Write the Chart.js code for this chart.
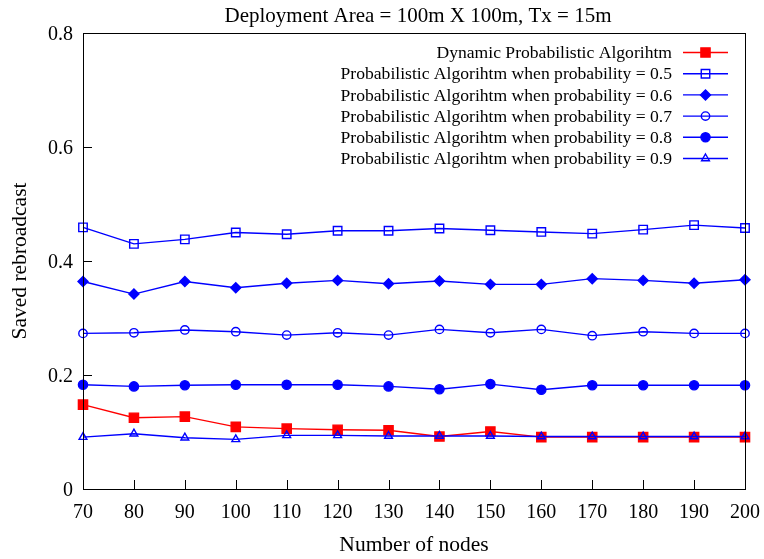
<!DOCTYPE html>
<html>
<head>
<meta charset="utf-8">
<script src="https://cdn.jsdelivr.net/npm/chart.js@4.4.1/dist/chart.umd.min.js"></script>
<style>
    body { margin: 0; background: #fff; }
    #wrap { width: 764px; height: 559px; position: relative; }
</style>
</head>
<body>
<div id="wrap"><canvas id="savedChart"></canvas></div>
<script>
// number of nodes
const nodes = [70, 80, 90, 100, 110, 120, 130, 140, 150, 160, 170, 180, 190, 200];

// saved rebroadcast per algorithm
const dynamicAlg = [0.148, 0.125, 0.127, 0.109, 0.106, 0.104, 0.103, 0.092, 0.101, 0.091, 0.091, 0.091, 0.091, 0.091];
const prob05 = [0.459, 0.430, 0.438, 0.450, 0.447, 0.453, 0.453, 0.457, 0.454, 0.451, 0.448, 0.455, 0.463, 0.458];
const prob06 = [0.364, 0.342, 0.364, 0.353, 0.361, 0.366, 0.360, 0.365, 0.359, 0.359, 0.369, 0.366, 0.361, 0.367];
const prob07 = [0.273, 0.274, 0.279, 0.276, 0.270, 0.274, 0.270, 0.280, 0.274, 0.280, 0.269, 0.276, 0.273, 0.273];
const prob08 = [0.183, 0.180, 0.182, 0.183, 0.183, 0.183, 0.180, 0.175, 0.184, 0.174, 0.182, 0.182, 0.182, 0.182];
const prob09 = [0.091, 0.097, 0.090, 0.087, 0.094, 0.094, 0.093, 0.093, 0.093, 0.092, 0.092, 0.092, 0.092, 0.092];

const yTicks = [0, 0.2, 0.4, 0.6, 0.8];

const serif = '"Liberation Serif", "Times New Roman", serif';
const toPoints = arr => arr.map((v, i) => ({ x: nodes[i], y: v }));

function series(label, data, color, style, filled, radius, order) {
    return {
        label: label,
        data: toPoints(data),
        borderColor: color,
        backgroundColor: color,
        borderWidth: 1.4,
        pointStyle: style,
        pointRadius: radius,
        pointHoverRadius: radius,
        pointBorderWidth: 1.4,
        pointBackgroundColor: filled ? color : 'rgba(0,0,0,0)',
        pointBorderColor: color,
        tension: 0,
        clip: false,
        order: order
    };
}

// frame, inward ticks, title and the gnuplot-style legend
const decorations = {
    id: 'decorations',
    afterDatasetsDraw(chart) {
        const ctx = chart.ctx;
        const area = chart.chartArea;
        const xs = chart.scales.x;
        const ys = chart.scales.y;
        ctx.save();
        ctx.strokeStyle = '#000';
        ctx.lineWidth = 1;
        ctx.strokeRect(Math.round(area.left) + 0.5, Math.round(area.top) + 0.5,
            Math.round(area.right - area.left), Math.round(area.bottom - area.top));
        ctx.beginPath();
        nodes.forEach(n => {
            const px = Math.round(xs.getPixelForValue(n)) + 0.5;
            ctx.moveTo(px, area.bottom);
            ctx.lineTo(px, area.bottom - 9);
        });
        yTicks.forEach(t => {
            const py = Math.round(ys.getPixelForValue(t)) + 0.5;
            ctx.moveTo(area.left, py);
            ctx.lineTo(area.left + 9, py);
        });
        ctx.stroke();

        ctx.fillStyle = '#000';
        ctx.font = '21px ' + serif;
        ctx.textAlign = 'center';
        ctx.textBaseline = 'alphabetic';
        ctx.fillText('Deployment Area = 100m X 100m, Tx = 15m', (area.left + area.right) / 2 + 4, 21.5);

        ctx.font = '17.6px ' + serif;
        ctx.textAlign = 'right';
        ctx.textBaseline = 'middle';
        chart.data.datasets.forEach((ds, i) => {
            const y = 52.5 + i * 21.2;
            ctx.fillStyle = '#000';
            ctx.fillText(ds.label, 672, y + 1);
            ctx.strokeStyle = ds.borderColor;
            ctx.lineWidth = 1.4;
            ctx.beginPath();
            ctx.moveTo(683, y);
            ctx.lineTo(728, y);
            ctx.stroke();
            ctx.fillStyle = ds.pointBackgroundColor;
            ctx.strokeStyle = ds.pointBorderColor;
            ctx.lineWidth = ds.pointBorderWidth;
            Chart.helpers.drawPoint(ctx, {
                pointStyle: ds.pointStyle,
                radius: ds.pointRadius,
                borderWidth: ds.pointBorderWidth,
                rotation: 0
            }, 705.5, y);
        });
        ctx.restore();
    }
};

const savedChart = new Chart(document.getElementById('savedChart'), {
    type: 'line',
    data: {
        datasets: [
            series('Dynamic Probabilistic Algorihtm', dynamicAlg, '#ff0000', 'rect', true, 6.5, 1),
            series('Probabilistic Algorihtm when probability = 0.5', prob05, '#0000ff', 'rect', false, 6, 0),
            series('Probabilistic Algorihtm when probability = 0.6', prob06, '#0000ff', 'rectRot', true, 5, 0),
            series('Probabilistic Algorihtm when probability = 0.7', prob07, '#0000ff', 'circle', false, 4.2, 0),
            series('Probabilistic Algorihtm when probability = 0.8', prob08, '#0000ff', 'circle', true, 4.6, 0),
            series('Probabilistic Algorihtm when probability = 0.9', prob09, '#0000ff', 'triangle', false, 4.5, 0)
        ]
    },
    options: {
        responsive: true,
        maintainAspectRatio: false,
        animation: false,
        events: [],
        layout: {
            padding: { top: 33, right: 19, bottom: 0, left: 0 }
        },
        plugins: {
            legend: { display: false },
            title: { display: false },
            tooltip: { enabled: false }
        },
        scales: {
            x: {
                type: 'linear',
                min: 70,
                max: 200,
                afterFit: scale => {
                    scale.height = 70;
                    scale.paddingLeft = 0;
                    scale.paddingRight = 0;
                },
                afterBuildTicks: scale => { scale.ticks = nodes.map(v => ({ value: v })); },
                grid: { display: false, drawTicks: false },
                border: { display: false },
                ticks: {
                    padding: 12,
                    color: '#000',
                    font: { family: serif, size: 20 },
                    maxRotation: 0,
                    autoSkip: false
                },
                title: {
                    display: true,
                    text: 'Number of nodes',
                    color: '#000',
                    font: { family: serif, size: 21.5 },
                    padding: { top: 0, bottom: 1 }
                }
            },
            y: {
                min: 0,
                max: 0.8,
                afterFit: scale => { scale.width = 83; },
                afterBuildTicks: scale => { scale.ticks = yTicks.map(v => ({ value: v })); },
                grid: { display: false, drawTicks: false },
                border: { display: false },
                ticks: {
                    padding: 10,
                    labelOffset: 2,
                    color: '#000',
                    font: { family: serif, size: 20 },
                    callback: v => v === 0 ? '0' : v.toFixed(1)
                },
                title: {
                    display: true,
                    text: 'Saved rebroadcast',
                    color: '#000',
                    font: { family: serif, size: 21.5 },
                    padding: { top: 7, bottom: 0 }
                }
            }
        }
    },
    plugins: [decorations]
});
</script>
</body>
</html>
